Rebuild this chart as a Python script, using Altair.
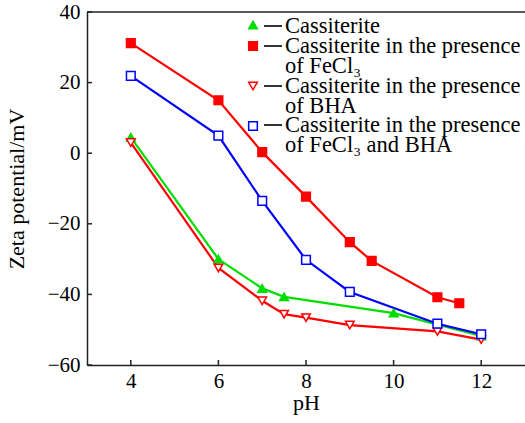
import altair as alt
import pandas as pd

# Zeta potential of cassiterite vs pH, four reagent conditions
ph_cass = [4, 6, 7, 7.5, 10, 12]
zeta_cass = [4.5, -30.0, -38.3, -40.7, -45.3, -51.8]

ph_fecl3 = [4, 6, 7, 8, 9, 9.5, 11, 11.5]
zeta_fecl3 = [31.2, 15.0, 0.3, -12.3, -25.2, -30.5, -40.8, -42.5]

ph_bha = [4, 6, 7, 7.5, 8, 9, 11, 12]
zeta_bha = [3.0, -32.5, -41.8, -45.6, -46.6, -48.7, -50.5, -52.8]

ph_both = [4, 6, 7, 8, 9, 11, 12]
zeta_both = [21.9, 5.0, -13.5, -30.2, -39.3, -48.3, -51.3]

series_names = ["Cassiterite", "FeCl3", "BHA", "FeCl3 + BHA"]
legend_texts = [
    "Cassiterite",
    "Cassiterite in the presence\nof FeCl\u2083",
    "Cassiterite in the presence\nof BHA",
    "Cassiterite in the presence\nof FeCl\u2083 and BHA",
]
x_ticks = [4, 6, 8, 10, 12]
y_ticks = [-60, -40, -20, 0, 20, 40]

colors = ["#00dd00", "#ff0000", "#ff0000", "#0000ff"]
fills = ["#00dd00", "#ff0000", "#ffffff", "#ffffff"]
shapes = ["triangle-up", "square", "triangle-down", "square"]

FONT = "Liberation Serif"
W, H = 438, 353

frames = []
for name, xs, ys in zip(series_names,
                        [ph_cass, ph_fecl3, ph_bha, ph_both],
                        [zeta_cass, zeta_fecl3, zeta_bha, zeta_both]):
    frames.append(pd.DataFrame({"pH": xs, "zeta": ys, "series": name}))
df = pd.concat(frames, ignore_index=True)

x_scale = alt.Scale(domain=[3, 13], nice=False, zero=False)
y_scale = alt.Scale(domain=[-60, 40], nice=False, zero=False)
x_axis = alt.Axis(values=x_ticks, title="pH", grid=False, tickSize=0,
                  labelPadding=5, titlePadding=1)
y_axis = alt.Axis(values=y_ticks, title="Zeta potential/mV", grid=False,
                  tickSize=0, labelPadding=7, titlePadding=19)

X = alt.X("pH:Q", scale=x_scale, axis=x_axis)
Y = alt.Y("zeta:Q", scale=y_scale, axis=y_axis)
color_scale = alt.Scale(domain=series_names, range=colors)

lines = alt.Chart(df).mark_line(strokeWidth=2.2).encode(
    x=X, y=Y,
    color=alt.Color("series:N", scale=color_scale, legend=None),
    detail="series:N",
)

points = alt.Chart(df).mark_point(size=75, strokeWidth=1.5, opacity=1).encode(
    x=X, y=Y,
    color=alt.Color("series:N", scale=color_scale, legend=None),
    fill=alt.Fill("series:N", scale=alt.Scale(domain=series_names, range=fills), legend=None),
    shape=alt.Shape("series:N", scale=alt.Scale(domain=series_names, range=shapes), legend=None),
)

# inward tick marks on both axes
xt = alt.Chart(pd.DataFrame({"t": x_ticks})).mark_rule(color="#222", strokeWidth=1.5).encode(
    x=alt.X("t:Q", scale=x_scale, axis=x_axis),
    y=alt.value(H), y2=alt.value(H - 5),
)
yt = alt.Chart(pd.DataFrame({"t": y_ticks})).mark_rule(color="#222", strokeWidth=1.5).encode(
    y=alt.Y("t:Q", scale=y_scale, axis=y_axis),
    x=alt.value(0), x2=alt.value(5),
)
# top frame line
top = alt.Chart(pd.DataFrame({"a": [0]})).mark_rule(color="#222", strokeWidth=1.5).encode(
    x=alt.value(0), x2=alt.value(W), y=alt.value(0),
)

# legend: marker, dash, label
legend_layers = []
marker_y = [13, 34, 74, 114]
text_y = [21, 41, 81, 120]
for i in range(4):
    legend_layers.append(
        alt.Chart(pd.DataFrame({"a": [0]})).mark_point(
            shape=shapes[i], size=75, strokeWidth=1.5, opacity=1,
            stroke=colors[i], fill=fills[i]
        ).encode(x=alt.value(166), y=alt.value(marker_y[i]))
    )
    legend_layers.append(
        alt.Chart(pd.DataFrame({"a": [0]})).mark_rule(color="black", strokeWidth=1.6).encode(
            x=alt.value(177), x2=alt.value(195), y=alt.value(text_y[i] - 7)
        )
    )
    legend_layers.append(
        alt.Chart(pd.DataFrame({"a": [0]})).mark_text(
            text=legend_texts[i], font=FONT, fontSize=22.5, align="left",
            baseline="alphabetic", color="black", lineBreak="\n", lineHeight=20
        ).encode(x=alt.value(198), y=alt.value(text_y[i]))
    )

chart = alt.layer(lines, points, xt, yt, top, *legend_layers).properties(
    width=W, height=H,
    padding={"left": 87, "top": 12, "right": 0, "bottom": 58},
    autosize="none",
).configure_view(stroke=None).configure_axis(
    labelFont=FONT, labelFontSize=21, labelColor="black",
    titleFont=FONT, titleFontSize=22, titleFontWeight="normal", titleColor="black",
    domainColor="#222", domainWidth=1.5,
)

chart.save("out.html", embed_options={"renderer": "svg", "actions": False})
